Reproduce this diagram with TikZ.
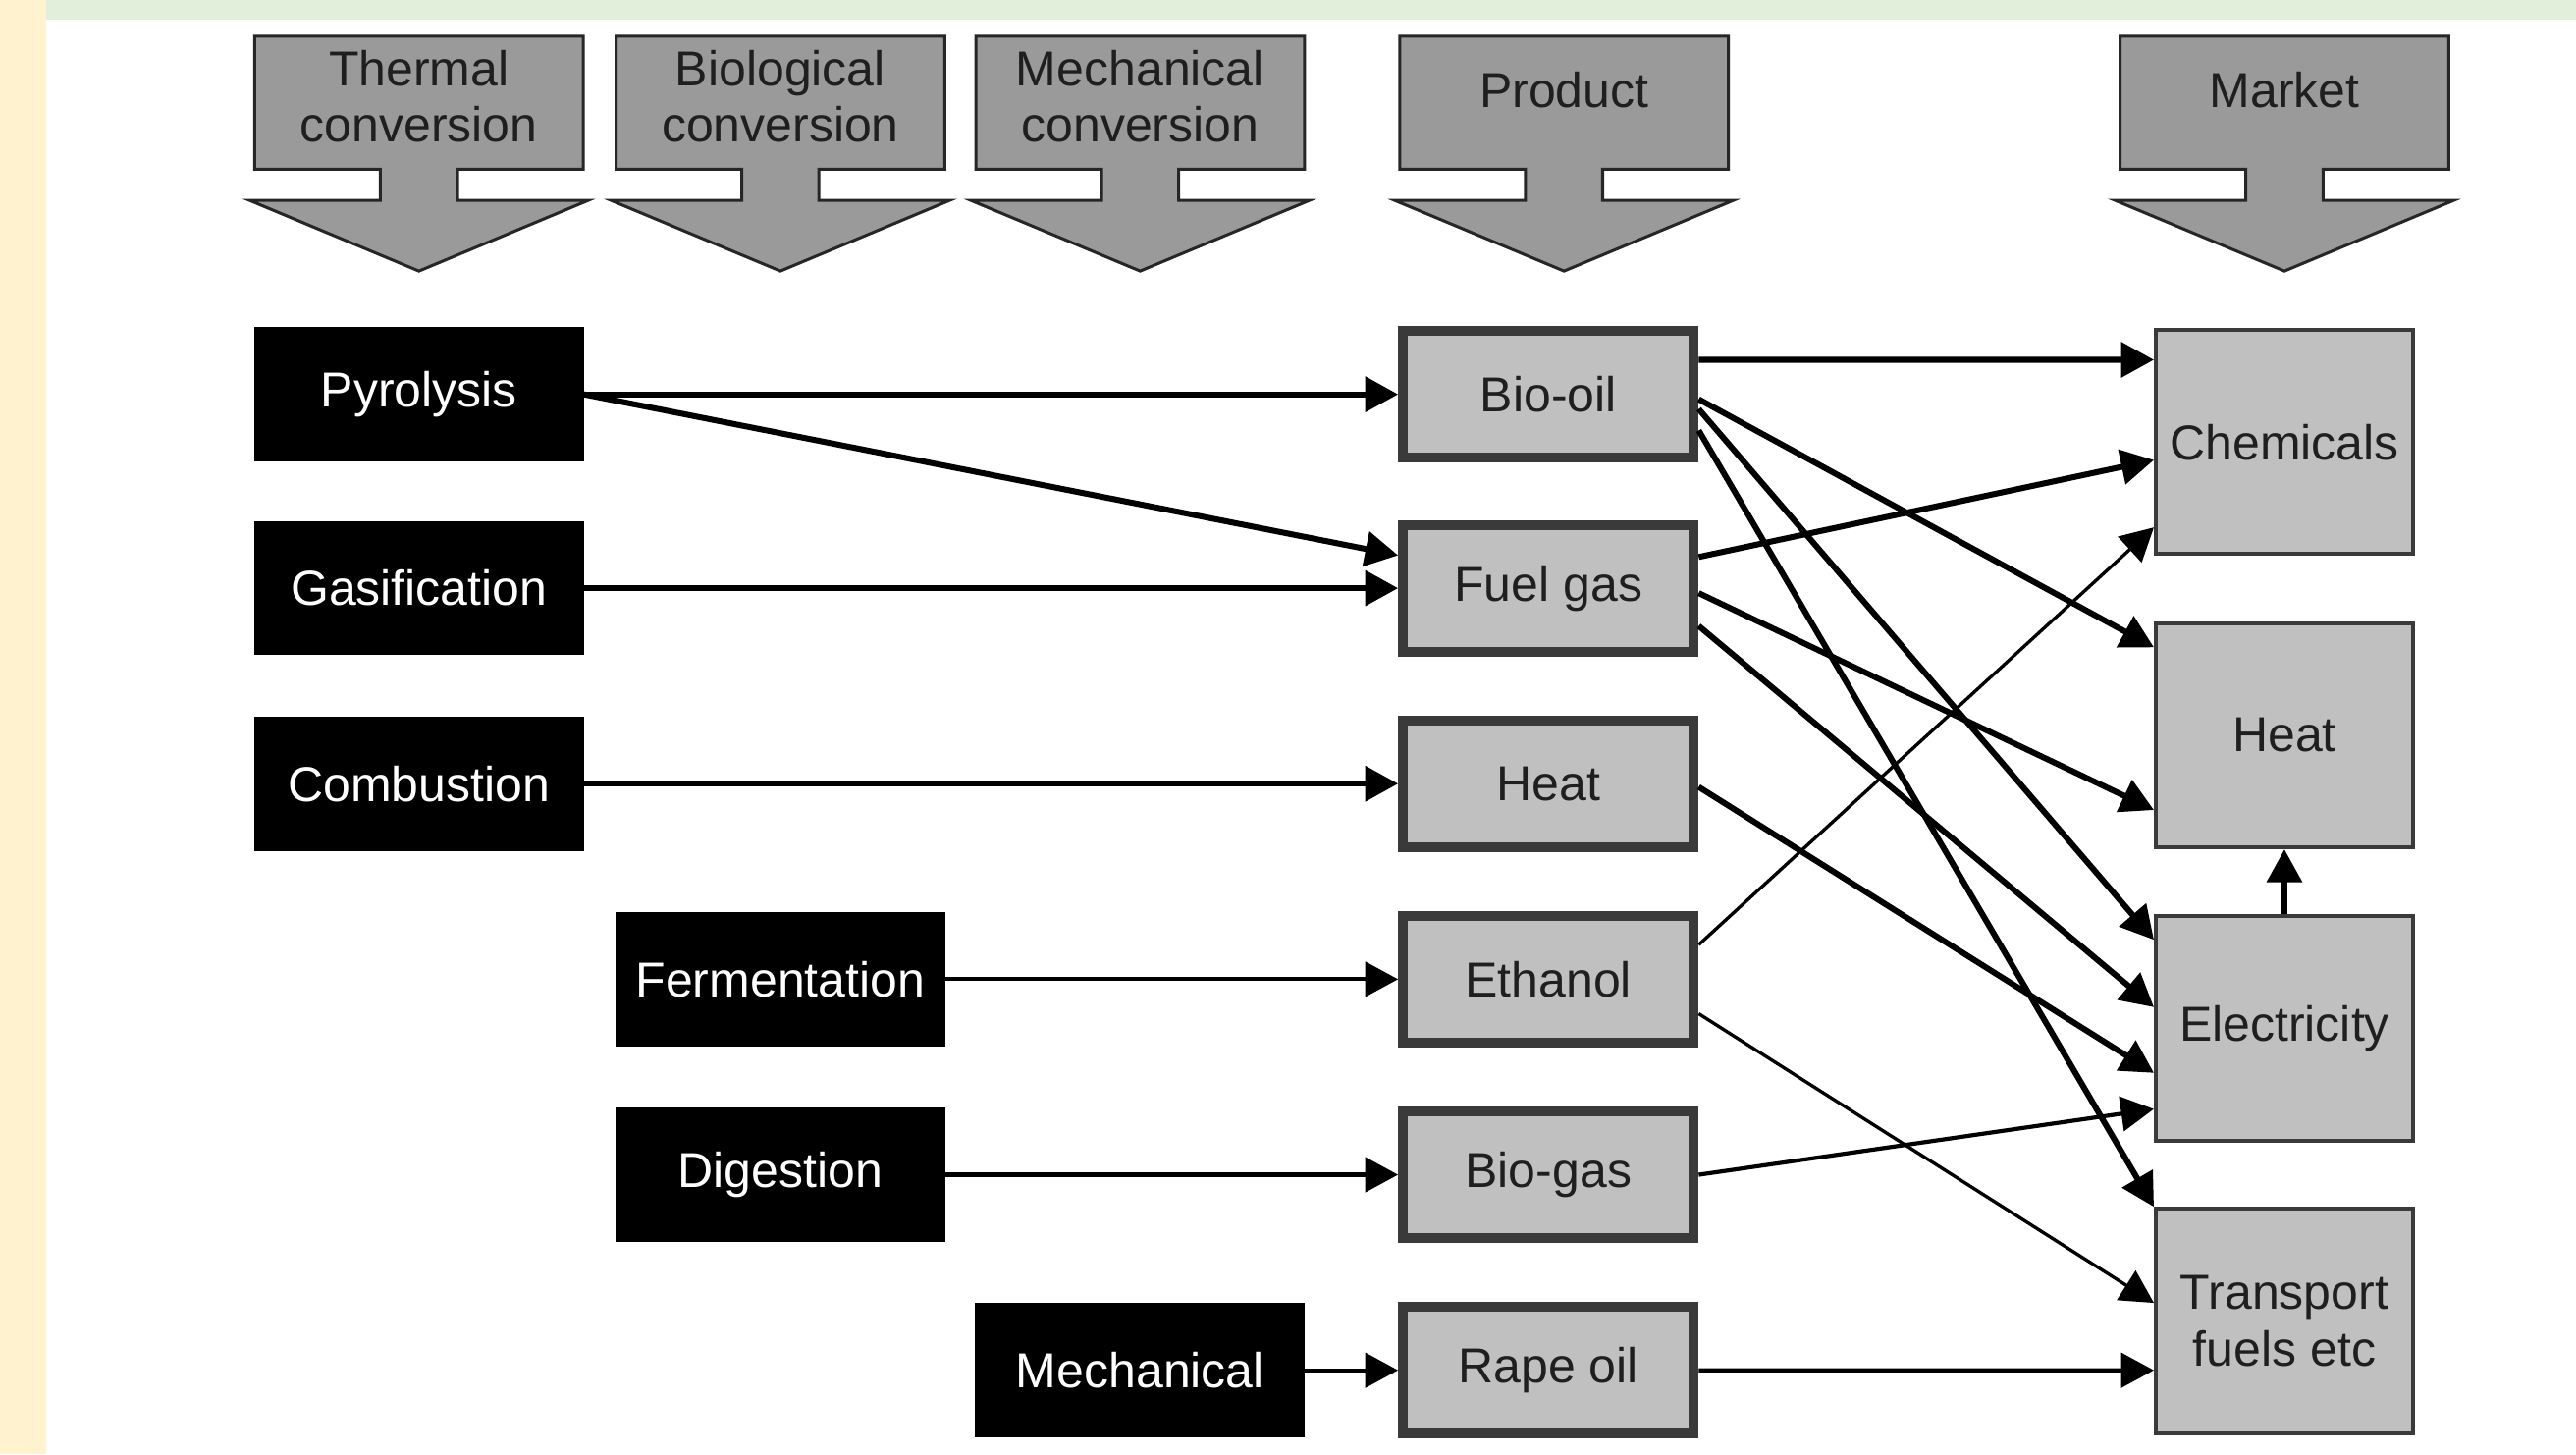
\documentclass[tikz,border=0pt]{standalone}
\usepackage{fontspec}
\setmainfont{Liberation Sans}
\usetikzlibrary{arrows.meta}
\usetikzlibrary{positioning}
\definecolor{sidebar}{RGB}{255,242,206}
\definecolor{topbar}{RGB}{226,239,218}
\definecolor{headgray}{RGB}{154,154,154}
\definecolor{boxgray}{RGB}{192,192,192}
\definecolor{edgegray}{RGB}{58,58,58}
\newcommand{\diagfont}{\fontsize{17}{19.5}\selectfont}
\tikzset{pics/.cd, headarrow/.style={code={%
			\filldraw[fill=headgray, draw=black!85, line width=0.036cm, line join=miter]
			(-2,0) -- (2,0) -- (2,-1.62) -- (0.47,-1.62) -- (0.47,-2) -- (2.06,-2)
			-- (0,-2.86) -- (-2.06,-2) -- (-0.47,-2) -- (-0.47,-1.62) -- (-2,-1.62) -- cycle;}}}
\tikzset{
	process/.style={fill=black, draw=black, text=white, minimum width=4cm,
		minimum height=1.62cm, inner sep=0pt, font=\diagfont},
	product/.style={fill=boxgray, draw=edgegray, line width=0.12cm, text=black!88,
		minimum width=3.54cm, minimum height=1.54cm, inner sep=0pt, font=\diagfont},
	market/.style={fill=boxgray, draw=edgegray, line width=0.048cm, text=black!88,
		minimum width=3.13cm, minimum height=2.73cm, inner sep=0pt, align=center, font=\diagfont},
	headtext/.style={text=black!88, align=center, font=\diagfont},
	link/.style={-{Triangle[length=0.4cm,width=0.42cm]}, line width=0.072cm},
	linkmed/.style={link, line width=0.05cm},
	linkthin/.style={link, line width=0.04cm}
}

\begin{document}
\begin{tikzpicture}

	\useasboundingbox (0,0) rectangle (31.36,-17.7);
	\fill[white] (0,0) rectangle (31.36,-17.7);
	\fill[sidebar] (0,0) rectangle (0.56,-17.7);
	\fill[topbar] (0.56,0) rectangle (31.36,-0.24);

	% Headers
	\path (5.1,-0.44) pic{headarrow};
	\path (9.5,-0.44) pic{headarrow};
	\path (13.88,-0.44) pic{headarrow};
	\path (19.04,-0.44) pic{headarrow};
	\path (27.81,-0.44) pic{headarrow};
	\node[headtext] (hthermal) at (5.1,-1.17) {Thermal\\conversion};
	\node[headtext] (hbio) at (9.5,-1.17) {Biological\\conversion};
	\node[headtext] (hmech) at (13.88,-1.17) {Mechanical\\conversion};
	\node[headtext] (hproduct) at (19.04,-1.1) {Product};
	\node[headtext] (hmarket) at (27.81,-1.1) {Market};

	% Processes
	\node[process] (pyro) at (5.1,-4.8) {Pyrolysis};
	\node[process] (gasif) at (5.1,-7.16) {Gasification};
	\node[process] (combust) at (5.1,-9.54) {Combustion};
	\node[process] (ferment) at (9.5,-11.92) {Fermentation};
	\node[process] (digest) at (9.5,-14.3) {Digestion};
	\node[process] (mech) at (13.88,-16.68) {Mechanical};

	% Products
	\node[product] (biooil) at (18.85,-4.8) {Bio-oil};
	\node[product] (fuelgas) at (18.85,-7.16) {Fuel gas};
	\node[product] (heatp) at (18.85,-9.54) {Heat};
	\node[product] (ethanol) at (18.85,-11.92) {Ethanol};
	\node[product] (biogas) at (18.85,-14.3) {Bio-gas};
	\node[product] (rapeoil) at (18.85,-16.68) {Rape oil};

	% Markets
	\node[market] (chem) at (27.81,-5.38) {Chemicals};
	\node[market] (heatm) at (27.81,-8.95) {Heat};
	\node[market] (elec) at (27.81,-12.52) {Electricity};
	\node[market] (transport) at (27.81,-16.08) {Transport\\fuels etc};

	% process -> product
	\draw[link] (pyro.east) -- (biooil.west);
	\draw[link] (pyro.east) -- ([yshift=0.4cm]fuelgas.west);
	\draw[link] (gasif.east) -- (fuelgas.west);
	\draw[link] (combust.east) -- (heatp.west);
	\draw[linkmed] (ferment.east) -- (ethanol.west);
	\draw[linkmed] (digest.east) -- (biogas.west);
	\draw[linkmed] (mech.east) -- (rapeoil.west);

	% product -> market
	\draw[link] ([yshift=0.42cm]biooil.east) -- ([yshift=1.0cm]chem.west);
	\draw[link] ([yshift=-0.06cm]biooil.east) -- ([yshift=1.07cm]heatm.west);
	\draw[link] ([yshift=-0.18cm]biooil.east) -- ([yshift=1.08cm]elec.west);
	\draw[link] ([yshift=-0.44cm]biooil.east) -- (transport.north west);
	\draw[link] ([yshift=0.38cm]fuelgas.east) -- ([yshift=-0.22cm]chem.west);
	\draw[link] ([yshift=-0.06cm]fuelgas.east) -- ([yshift=-0.91cm]heatm.west);
	\draw[link] ([yshift=-0.46cm]fuelgas.east) -- ([yshift=0.26cm]elec.west);
	\draw[link] ([yshift=-0.04cm]heatp.east) -- ([yshift=-0.54cm]elec.west);
	\draw[linkthin] ([yshift=0.42cm]ethanol.east) -- ([yshift=-1.04cm]chem.west);
	\draw[linkthin] ([yshift=-0.42cm]ethanol.east) -- ([yshift=0.22cm]transport.west);
	\draw[linkmed] (biogas.east) -- ([yshift=-0.98cm]elec.west);
	\draw[linkmed] (rapeoil.east) -- ([yshift=-0.6cm]transport.west);
	\draw[link] (elec.north) -- (heatm.south);

\end{tikzpicture}
\end{document}
